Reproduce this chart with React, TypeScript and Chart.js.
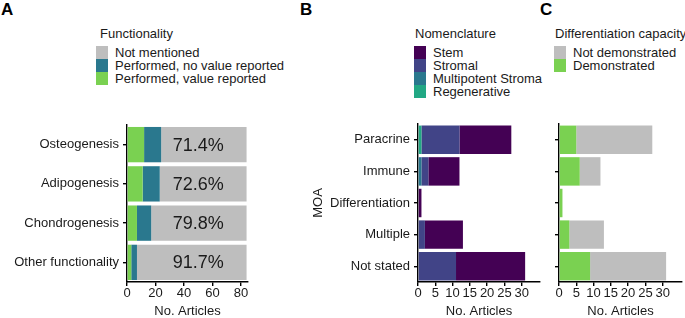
import React, { useEffect, useRef } from 'react';
import { Chart, registerables } from 'chart.js';

Chart.register(...registerables);

const FONT = '"Liberation Sans", Arial, Helvetica, sans-serif';
const TEXT = '#1a1a1a';

// Panel A – functionality
const functionCategories = ['Osteogenesis', 'Adipogenesis', 'Chondrogenesis', 'Other functionality'];
const valueReported = [12, 11, 7, 3];
const noValueReported = [12, 12, 10, 4];
const notMentioned = [60, 61, 67, 77];
const functionTicks = [0, 20, 40, 60, 80];

// Panel B – nomenclature by MOA
const moaCategories = ['Paracrine', 'Immune', 'Differentiation', 'Multiple', 'Not stated'];
const regenerative = [1, 0, 0, 0, 0];
const multipotentStroma = [0, 1, 0, 0, 0];
const stromal = [11, 2, 0, 2, 11];
const stem = [15, 9, 1, 11, 20];
const moaTicks = [0, 5, 10, 15, 20, 25, 30];

// Panel C – differentiation capacity by MOA
const demonstrated = [5, 6, 1, 3, 9];
const notDemonstrated = [22, 6, 0, 10, 22];

const C_GREY = '#BEBEBE';
const C_TEAL = '#2A788E';
const C_GREEN = '#7AD151';
const C_STEM = '#440154';
const C_STROMAL = '#414487';
const C_REGEN = '#22A884';

type PanelProps = {
  left: number;
  top: number;
  width: number;
  height: number;
  yWidth: number;
  padTop: number;
  padRight: number;
  xMax: number;
  xTicks: number[];
  labels: string[];
  datasets: any[];
  showYLabels: boolean;
  yTitle?: string;
  plugins?: any[];
};

function Panel(p: PanelProps) {
  const ref = useRef<HTMLCanvasElement | null>(null);
  useEffect(() => {
    if (!ref.current) return;
    const axisGrid = {
      display: true,
      drawOnChartArea: false,
      drawTicks: true,
      tickLength: 4,
      color: '#000',
      lineWidth: 1.4,
      offset: false,
    };
    const chart = new Chart(ref.current, {
      type: 'bar',
      data: {
        labels: p.labels,
        datasets: p.datasets.map((d) => ({
          ...d,
          borderWidth: 0,
          barPercentage: 0.9,
          categoryPercentage: 1.0,
        })),
      },
      options: {
        indexAxis: 'y',
        animation: false,
        responsive: false,
        maintainAspectRatio: false,
        devicePixelRatio: 1,
        layout: { padding: { top: p.padTop, right: p.padRight, left: 0, bottom: 0 } },
        plugins: { legend: { display: false }, tooltip: { enabled: false } },
        scales: {
          x: {
            type: 'linear',
            stacked: true,
            min: 0,
            max: p.xMax,
            afterBuildTicks: (s: any) => {
              s.ticks = p.xTicks.map((v) => ({ value: v }));
            },
            afterFit: (s: any) => {
              s.height = 36;
            },
            grid: axisGrid as any,
            border: { display: true, color: '#000', width: 1.4 },
            ticks: { color: TEXT, font: { family: FONT, size: 13 }, padding: 0, maxRotation: 0, autoSkip: false },
            title: {
              display: true,
              text: 'No. Articles',
              color: TEXT,
              font: { family: FONT, size: 13, lineHeight: 1 },
              padding: 0,
            },
          },
          y: {
            type: 'category',
            stacked: true,
            offset: true,
            afterFit: (s: any) => {
              s.width = p.yWidth;
            },
            grid: axisGrid as any,
            border: { display: true, color: '#000', width: 1.4 },
            ticks: {
              display: p.showYLabels,
              color: TEXT,
              font: { family: FONT, size: 13 },
              padding: 4,
              autoSkip: false,
            },
            title: {
              display: !!p.yTitle,
              text: p.yTitle || '',
              color: TEXT,
              font: { family: FONT, size: 13, lineHeight: 1 },
              padding: { top: 16, bottom: 0 },
            },
          },
        },
      },
      plugins: p.plugins || [],
    } as any);
    return () => chart.destroy();
  }, []);
  return (
    <canvas
      ref={ref}
      width={p.width}
      height={p.height}
      style={{ position: 'absolute', left: p.left, top: p.top, width: p.width, height: p.height }}
    />
  );
}

const pctPlugin = {
  id: 'pctLabels',
  afterDatasetsDraw(chart: any) {
    const ctx = chart.ctx;
    const xs = chart.scales.x;
    const ys = chart.scales.y;
    ctx.save();
    ctx.fillStyle = TEXT;
    ctx.font = `18px ${FONT}`;
    ctx.textAlign = 'center';
    ctx.textBaseline = 'middle';
    functionCategories.forEach((_, i) => {
      const total = valueReported[i] + noValueReported[i] + notMentioned[i];
      const pct = ((notMentioned[i] / total) * 100).toFixed(1) + '%';
      ctx.fillText(pct, xs.getPixelForValue(50), ys.getPixelForValue(i) + 1);
    });
    ctx.restore();
  },
};

function Legend(props: { left: number; titleOffset: number; title: string; items: { label: string; color: string }[] }) {
  return (
    <div style={{ position: 'absolute', left: props.left, top: 26, fontFamily: FONT, color: TEXT }}>
      <div style={{ fontSize: 13, lineHeight: '15px', height: 15, marginLeft: props.titleOffset, whiteSpace: 'nowrap' }}>
        {props.title}
      </div>
      <div style={{ marginTop: 5 }}>
        {props.items.map((it) => (
          <div key={it.label} style={{ display: 'flex', height: 13, alignItems: 'center' }}>
            <div style={{ width: 12, height: 13, background: it.color }} />
            <div style={{ marginLeft: 7, fontSize: 13, lineHeight: '13px', whiteSpace: 'nowrap' }}>{it.label}</div>
          </div>
        ))}
      </div>
    </div>
  );
}

function Letter(props: { left: number; text: string }) {
  return (
    <div
      style={{
        position: 'absolute',
        left: props.left,
        top: 1,
        fontFamily: FONT,
        fontWeight: 'bold',
        fontSize: 17,
        lineHeight: '17px',
        color: '#000',
      }}
    >
      {props.text}
    </div>
  );
}

export default function App() {
  return (
    <div style={{ position: 'absolute', left: 0, top: 0, width: 685, height: 318, background: '#fff', overflow: 'hidden' }}>
      <Letter left={1} text="A" />
      <Letter left={300} text="B" />
      <Letter left={540} text="C" />
      <Legend
        left={96}
        titleOffset={4}
        title="Functionality"
        items={[
          { label: 'Not mentioned', color: C_GREY },
          { label: 'Performed, no value reported', color: C_TEAL },
          { label: 'Performed, value reported', color: C_GREEN },
        ]}
      />
      <Legend
        left={414}
        titleOffset={1}
        title="Nomenclature"
        items={[
          { label: 'Stem', color: C_STEM },
          { label: 'Stromal', color: C_STROMAL },
          { label: 'Multipotent Stroma', color: C_TEAL },
          { label: 'Regenerative', color: C_REGEN },
        ]}
      />
      <Legend
        left={554}
        titleOffset={1}
        title="Differentiation capacity"
        items={[
          { label: 'Not demonstrated', color: C_GREY },
          { label: 'Demonstrated', color: C_GREEN },
        ]}
      />
      <Panel
        left={0}
        top={100}
        width={262}
        height={218}
        yWidth={127}
        padTop={25}
        padRight={14}
        xMax={85}
        xTicks={functionTicks}
        labels={functionCategories}
        showYLabels={true}
        datasets={[
          { label: 'Performed, value reported', data: valueReported, backgroundColor: C_GREEN },
          { label: 'Performed, no value reported', data: noValueReported, backgroundColor: C_TEAL },
          { label: 'Not mentioned', data: notMentioned, backgroundColor: C_GREY },
        ]}
        plugins={[pctPlugin]}
      />
      <Panel
        left={296}
        top={100}
        width={248}
        height={218}
        yWidth={122}
        padTop={24}
        padRight={4}
        xMax={35.3}
        xTicks={moaTicks}
        labels={moaCategories}
        showYLabels={true}
        yTitle="MOA"
        datasets={[
          { label: 'Regenerative', data: regenerative, backgroundColor: C_REGEN },
          { label: 'Multipotent Stroma', data: multipotentStroma, backgroundColor: C_TEAL },
          { label: 'Stromal', data: stromal, backgroundColor: C_STROMAL },
          { label: 'Stem', data: stem, backgroundColor: C_STEM },
        ]}
      />
      <Panel
        left={545}
        top={100}
        width={140}
        height={218}
        yWidth={14}
        padTop={24}
        padRight={3}
        xMax={35.6}
        xTicks={moaTicks}
        labels={moaCategories}
        showYLabels={false}
        datasets={[
          { label: 'Demonstrated', data: demonstrated, backgroundColor: C_GREEN },
          { label: 'Not demonstrated', data: notDemonstrated, backgroundColor: C_GREY },
        ]}
      />
    </div>
  );
}
